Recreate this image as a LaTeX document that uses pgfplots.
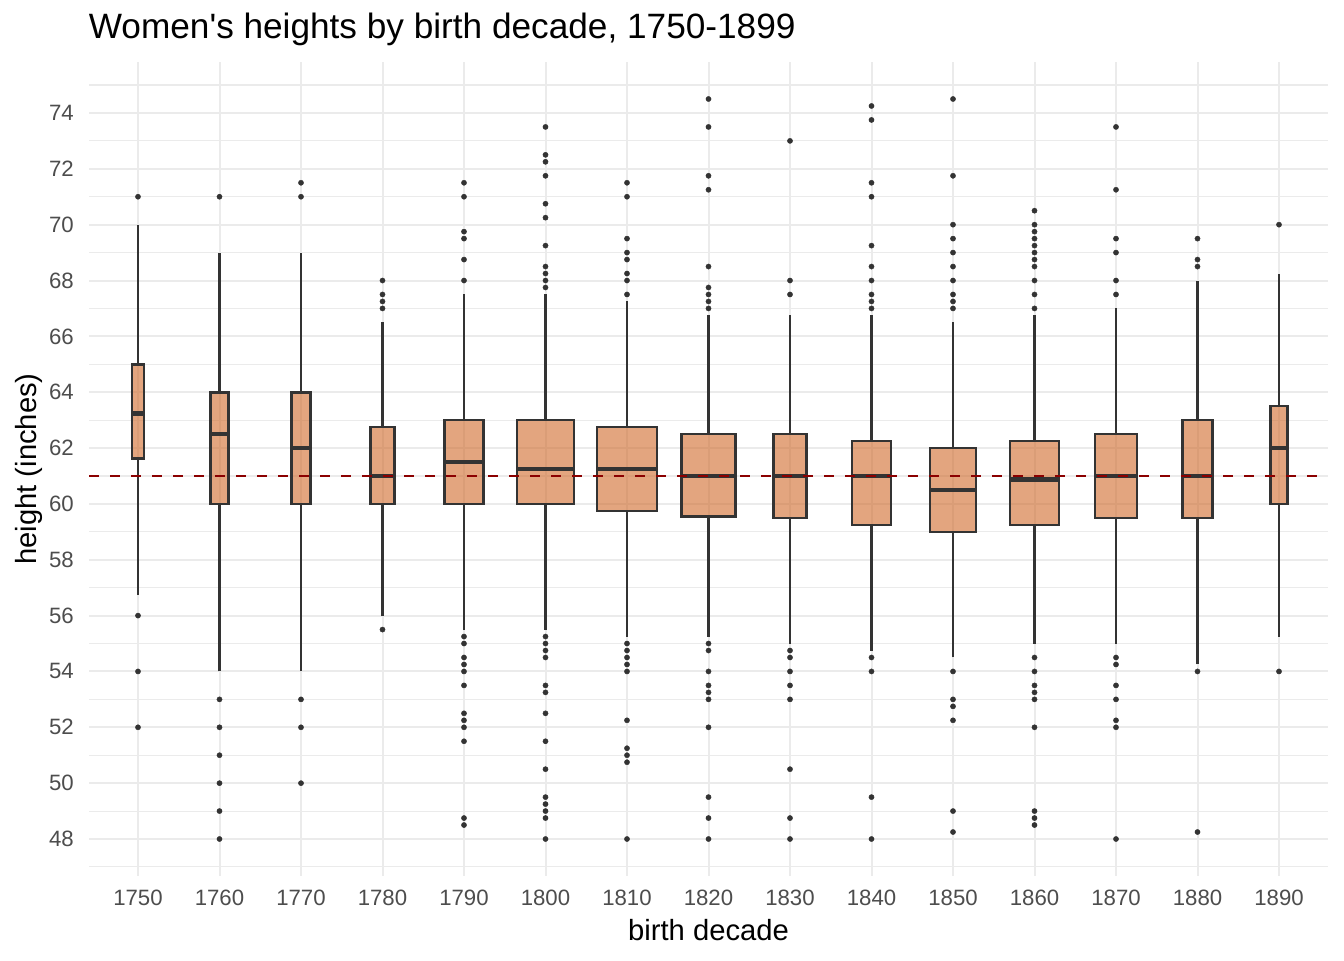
\documentclass[border=0pt]{standalone}
\usepackage{fontspec}
\setmainfont{Liberation Sans}
\usepackage{pgfplots}
\pgfplotsset{compat=1.18}
\definecolor{gridgray}{HTML}{EBEBEB}
\definecolor{gray20}{HTML}{333333}
\definecolor{gray30}{HTML}{4D4D4D}
\definecolor{boxbase}{RGB}{208,105,42}
\definecolor{dred}{RGB}{139,0,0}
\pgfplotsset{
  bxs/.style={draw=gray20, fill=boxbase, fill opacity=0.6, line width=1.3pt, line join=miter},
}
\begin{document}
\begin{tikzpicture}
\begin{axis}[
  at={(0pt,0pt)}, anchor=south west,
  scale only axis, width=619.4pt, height=407pt,
  xmin=0.4, xmax=15.6, ymin=46.675, ymax=75.825,
  xtick={1,...,15},
  xticklabels={1750,1760,1770,1780,1790,1800,1810,1820,1830,1840,1850,1860,1870,1880,1890},
  ytick={48,50,...,74},
  minor ytick={47,49,...,75},
  grid=both,
  major grid style={draw=gridgray, line width=1pt},
  minor grid style={draw=gridgray, line width=0.55pt},
  axis line style={draw=none},
  major tick length=0pt, minor tick length=0pt,
  tick style={draw=none},
  /pgf/number format/assume math mode=true,
  ticklabel style={font=\fontsize{11.1}{13}\selectfont, text=gray30, inner sep=0pt},
  xticklabel style={anchor=north},
  yticklabel style={anchor=east},
  xticklabel shift=7pt,
  yticklabel shift=7.5pt,
]
% whiskers (lower: lower whisker to lower quartile; upper: upper quartile to upper whisker)
\addplot[draw=gray20, line width=1.2pt, unbounded coords=jump] coordinates {
(1,56.75)(1,61.625) (nan,nan) (1,65)(1,70) (nan,nan)
(2,54)(2,60) (nan,nan) (2,64)(2,69) (nan,nan)
(3,54)(3,60) (nan,nan) (3,64)(3,69) (nan,nan)
(4,56)(4,60) (nan,nan) (4,62.75)(4,66.5) (nan,nan)
(5,55.5)(5,60) (nan,nan) (5,63)(5,67.5) (nan,nan)
(6,55.5)(6,60) (nan,nan) (6,63)(6,67.5) (nan,nan)
(7,55.25)(7,59.75) (nan,nan) (7,62.75)(7,67.25) (nan,nan)
(8,55.25)(8,59.55) (nan,nan) (8,62.5)(8,66.75) (nan,nan)
(9,55)(9,59.5) (nan,nan) (9,62.5)(9,66.75) (nan,nan)
(10,54.75)(10,59.25) (nan,nan) (10,62.25)(10,66.75) (nan,nan)
(11,54.5)(11,59) (nan,nan) (11,62)(11,66.5) (nan,nan)
(12,55)(12,59.25) (nan,nan) (12,62.25)(12,66.75) (nan,nan)
(13,55)(13,59.5) (nan,nan) (13,62.5)(13,67) (nan,nan)
(14,54.25)(14,59.5) (nan,nan) (14,63)(14,68) (nan,nan)
(15,55.25)(15,60) (nan,nan) (15,63.5)(15,68.25)
};
% boxes (lower quartile to upper quartile)
\addplot[bxs] coordinates {(0.9275,61.625)(1.0725,61.625)(1.0725,65)(0.9275,65)} -- cycle;
\addplot[bxs] coordinates {(1.89,60)(2.11,60)(2.11,64)(1.89,64)} -- cycle;
\addplot[bxs] coordinates {(2.884,60)(3.116,60)(3.116,64)(2.884,64)} -- cycle;
\addplot[bxs] coordinates {(3.854,60)(4.146,60)(4.146,62.75)(3.854,62.75)} -- cycle;
\addplot[bxs] coordinates {(4.7625,60)(5.2375,60)(5.2375,63)(4.7625,63)} -- cycle;
\addplot[bxs] coordinates {(5.6525,60)(6.3475,60)(6.3475,63)(5.6525,63)} -- cycle;
\addplot[bxs] coordinates {(6.634,59.75)(7.366,59.75)(7.366,62.75)(6.634,62.75)} -- cycle;
\addplot[bxs] coordinates {(7.67,59.55)(8.33,59.55)(8.33,62.5)(7.67,62.5)} -- cycle;
\addplot[bxs] coordinates {(8.799,59.5)(9.201,59.5)(9.201,62.5)(8.799,62.5)} -- cycle;
\addplot[bxs] coordinates {(9.7625,59.25)(10.2375,59.25)(10.2375,62.25)(9.7625,62.25)} -- cycle;
\addplot[bxs] coordinates {(10.72,59)(11.28,59)(11.28,62)(10.72,62)} -- cycle;
\addplot[bxs] coordinates {(11.701,59.25)(12.299,59.25)(12.299,62.25)(11.701,62.25)} -- cycle;
\addplot[bxs] coordinates {(12.744,59.5)(13.256,59.5)(13.256,62.5)(12.744,62.5)} -- cycle;
\addplot[bxs] coordinates {(13.8175,59.5)(14.1825,59.5)(14.1825,63)(13.8175,63)} -- cycle;
\addplot[bxs] coordinates {(14.8975,60)(15.1025,60)(15.1025,63.5)(14.8975,63.5)} -- cycle;
% medians
\addplot[draw=gray20, line width=2.4pt, unbounded coords=jump] coordinates {
(0.9275,63.25)(1.0725,63.25) (nan,nan)
(1.89,62.5)(2.11,62.5) (nan,nan)
(2.884,62)(3.116,62) (nan,nan)
(3.854,61)(4.146,61) (nan,nan)
(4.7625,61.5)(5.2375,61.5) (nan,nan)
(5.6525,61.25)(6.3475,61.25) (nan,nan)
(6.634,61.25)(7.366,61.25) (nan,nan)
(7.67,61)(8.33,61) (nan,nan)
(8.799,61)(9.201,61) (nan,nan)
(9.7625,61)(10.2375,61) (nan,nan)
(10.72,60.5)(11.28,60.5) (nan,nan)
(11.701,60.875)(12.299,60.875) (nan,nan)
(12.744,61)(13.256,61) (nan,nan)
(13.8175,61)(14.1825,61) (nan,nan)
(14.8975,62)(15.1025,62)
};
% outliers
\addplot[only marks, mark=*, mark size=1.3pt, mark options={fill=gray20, draw=gray20, line width=0.2pt}] coordinates {
(1,71)(1,56)(1,54)(1,52)
(2,71)(2,53)(2,52)(2,51)(2,50)(2,49)(2,48)
(3,71.5)(3,71)(3,53)(3,52)(3,50)
(4,68)(4,67.5)(4,67.25)(4,67)(4,55.5)
(5,71.5)(5,71)(5,69.75)(5,69.5)(5,68.75)(5,68)(5,55.25)(5,55)(5,54.5)(5,54.25)(5,54)(5,53.5)(5,52.5)(5,52.25)(5,52)(5,51.5)(5,48.75)(5,48.5)
(6,73.5)(6,72.5)(6,72.25)(6,71.75)(6,70.75)(6,70.25)(6,69.25)(6,68.5)(6,68.25)(6,68)(6,67.75)(6,55.25)(6,55)(6,54.75)(6,54.5)(6,53.5)(6,53.25)(6,52.5)(6,51.5)(6,50.5)(6,49.5)(6,49.25)(6,49)(6,48.75)(6,48)
(7,71.5)(7,71)(7,69.5)(7,69)(7,68.75)(7,68.25)(7,68)(7,67.5)(7,55)(7,54.75)(7,54.5)(7,54.25)(7,54)(7,52.25)(7,51.25)(7,51)(7,50.75)(7,48)
(8,74.5)(8,73.5)(8,71.75)(8,71.25)(8,68.5)(8,67.75)(8,67.5)(8,67.25)(8,67)(8,55)(8,54.75)(8,54)(8,53.5)(8,53.25)(8,53)(8,52)(8,49.5)(8,48.75)(8,48)
(9,73)(9,68)(9,67.5)(9,54.75)(9,54.5)(9,54)(9,53.5)(9,53)(9,50.5)(9,48.75)(9,48)
(10,74.25)(10,73.75)(10,71.5)(10,71)(10,69.25)(10,68.5)(10,68)(10,67.5)(10,67.25)(10,67)(10,54.5)(10,54)(10,49.5)(10,48)
(11,74.5)(11,71.75)(11,70)(11,69.5)(11,69)(11,68.5)(11,68)(11,67.5)(11,67.25)(11,67)(11,54)(11,53)(11,52.75)(11,52.25)(11,49)(11,48.25)
(12,70.5)(12,70)(12,69.75)(12,69.5)(12,69.25)(12,69)(12,68.75)(12,68.5)(12,68)(12,67.5)(12,67)(12,54.5)(12,54)(12,53.5)(12,53.25)(12,53)(12,52)(12,49)(12,48.75)(12,48.5)
(13,73.5)(13,71.25)(13,69.5)(13,69)(13,68)(13,67.5)(13,54.5)(13,54.25)(13,53.5)(13,53)(13,52.25)(13,52)(13,48)
(14,69.5)(14,68.75)(14,68.5)(14,54)(14,48.25)
(15,70)(15,54)
};
% reference line
\addplot[dred, line width=1.35pt, dash pattern=on 5pt off 5.5pt] coordinates {(0.4,61) (15.6,61)};
\end{axis}
\node[anchor=base west, inner sep=0pt, font=\fontsize{17.6}{20}\selectfont] at (-0.3pt,418.5pt) {Women\textquotesingle s heights by birth decade, 1750-1899};
\node[anchor=base, inner sep=0pt, font=\fontsize{14.6}{17}\selectfont] at (309.7pt,-32pt) {birth decade};
\node[anchor=base, rotate=90, inner sep=0pt, font=\fontsize{14.6}{17}\selectfont] at (-26.55pt,203.5pt) {height (inches)};
\pgfresetboundingbox
\useasboundingbox (-44.55pt,-42pt) rectangle (627.45pt,438pt);
\end{tikzpicture}
\end{document}
